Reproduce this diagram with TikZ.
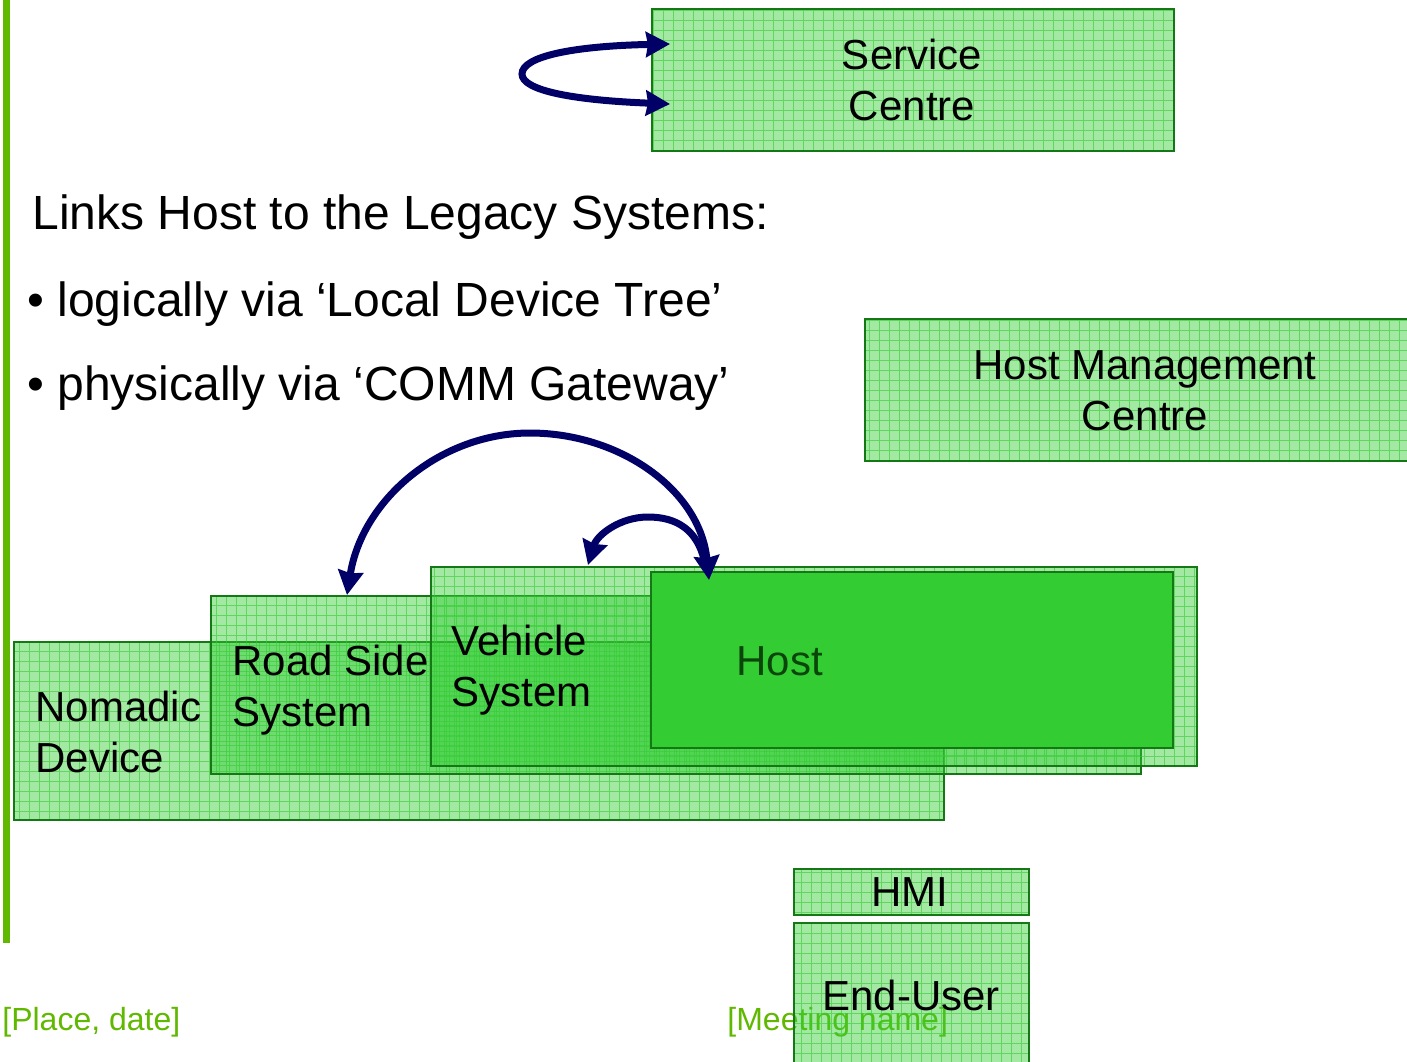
\documentclass[tikz,border=0pt]{standalone}
\usepackage{fontspec}
\setmainfont{Liberation Sans}
\usetikzlibrary{arrows.meta,calc}
\definecolor{boxgreen}{RGB}{51,204,51}
\definecolor{boxborder}{RGB}{20,120,20}
\definecolor{gridgreen}{RGB}{51,204,51}
\definecolor{navyblue}{RGB}{0,0,102}
\definecolor{limegreen}{RGB}{97,184,0}
\definecolor{hosttext}{RGB}{10,70,10}
\begin{document}
\begin{tikzpicture}[x=0.5pt,y=-0.5pt,
  gbox/.style={rectangle, draw=boxborder, line width=1pt, fill=boxgreen, fill opacity=0.45,
    inner sep=0pt, anchor=north west,
    path picture={\draw[gridgreen, draw opacity=0.6, line width=0.5pt, step=5pt]
      (path picture bounding box.south west) grid (path picture bounding box.north east);}},
  hostbox/.style={rectangle, draw=boxborder, line width=1pt, fill=boxgreen, inner sep=0pt, anchor=north west},
  boxtext/.style={inner sep=0pt, font=\fontsize{21pt}{25.5pt}\selectfont, text depth=0pt},
  bodytext/.style={inner sep=0pt, anchor=base west, font=\fontsize{24pt}{28pt}\selectfont},
  foot/.style={inner sep=0pt, anchor=base west, text=limegreen, font=\fontsize{16pt}{19pt}\selectfont},
  conn/.style={draw=navyblue, line width=3.5pt},
  navytip/.tip={Stealth[length=12pt,width=12.5pt,inset=1pt]}
]
\useasboundingbox (0,0) rectangle (1407,1061);
\fill[white] (0,0) rectangle (1407,1061);

% footer texts (under the boxes)
\node[foot] (place) at (2,1030) {[Place, date]};
\node[foot] (meeting) at (727,1030) {[Meeting name]};

% left bar
\fill[limegreen] (3,0) rectangle (10,943);

% body text
\node[bodytext] (title) at (32,229) {Links Host to the Legacy Systems:};
\node[bodytext] (b1) at (27,316) {• logically via ‘Local Device Tree’};
\node[bodytext] (b2) at (27,400) {• physically via ‘COMM Gateway’};

% boxes
\node[gbox, minimum width=261pt, minimum height=71pt] (sc) at (651,8) {};
\node[boxtext, align=center] (sct) at (912,80) {Service\\Centre};

\node[gbox, minimum width=274pt, minimum height=71pt] (hmc) at (864,318) {};
\node[boxtext, align=center] (hmct) at (1145,391) {Host Management\\Centre};

\node[gbox, minimum width=465pt, minimum height=89pt] (nd) at (13,641) {};
\node[boxtext, align=left, anchor=west] (ndt) at (35,732) {Nomadic\\Device};

\node[gbox, minimum width=465pt, minimum height=89pt] (rs) at (210,595) {};
\node[boxtext, align=left, anchor=west] (rst) at (232,686) {Road Side\\System};

\node[gbox, minimum width=383pt, minimum height=99.5pt] (vs) at (430,566) {};
\node[boxtext, align=left, anchor=west] (vst) at (451,666) {Vehicle\\System};

\node[hostbox, minimum width=261pt, minimum height=88pt] (host) at (650,571) {};
\node[boxtext, anchor=west, text=hosttext] (hostt) at (736,661) {Host};

\node[gbox, minimum width=117.5pt, minimum height=23pt] (hmi) at (793,868) {};
\node[boxtext] (hmit) at (910,892) {HMI};

\node[gbox, minimum width=117.5pt, minimum height=80pt] (eu) at (793,922) {};
\node[boxtext] (eut) at (911,995) {End-User};

% connector end points
\coordinate (scU) at ($(sc.north west)+(19,36)$);
\coordinate (scD) at ($(sc.north west)+(19,96)$);
\coordinate (hostA) at ($(host.north west)+(59,9)$);
\coordinate (rsA) at ($(rs.north west)+(137,0)$);
\coordinate (vsA) at ($(vs.north west)+(158,-1)$);

% connectors
\draw[conn, {navytip}-{navytip}] (scD) .. controls (570,100) and (522,90) .. (522,74)
  .. controls (522,56) and (575,46) .. (scU);
\draw[conn, {navytip}-{navytip}] (rsA) .. controls (362,500) and (440,433) .. (530,433)
  .. controls (620,433) and (700,490) .. (hostA);
\draw[conn, shorten <=10pt, -{navytip}] (hostA) .. controls (697,530) and (677,517) .. (648,517)
  .. controls (620,517) and (597,535) .. (vsA);
\end{tikzpicture}
\end{document}
